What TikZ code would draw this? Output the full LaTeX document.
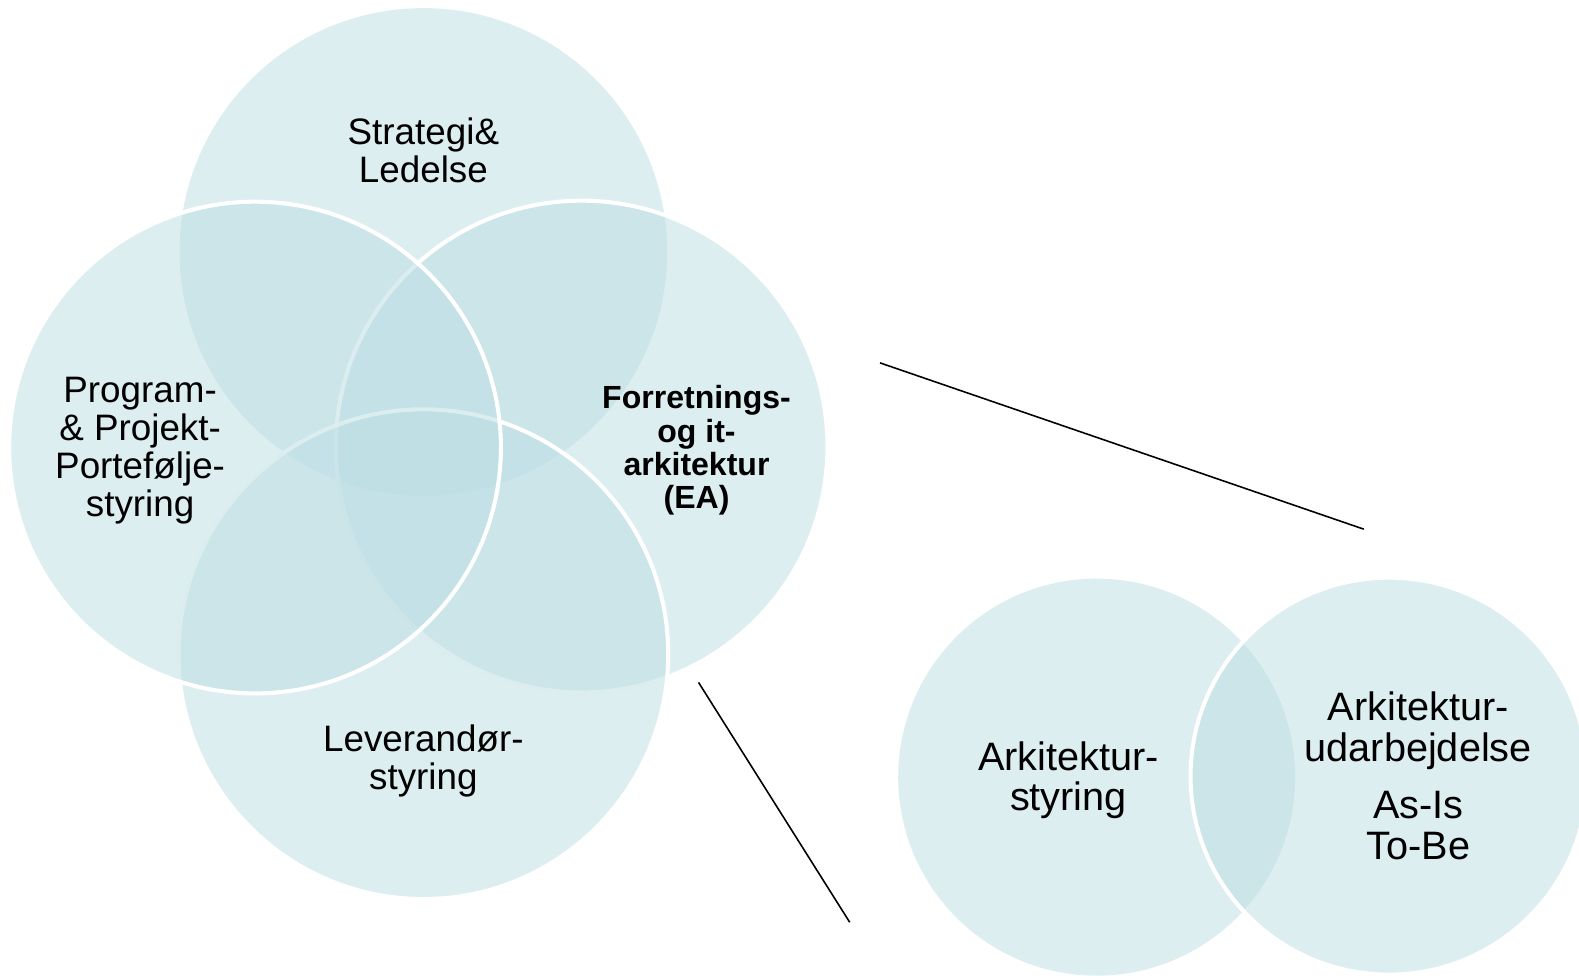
\documentclass[tikz,border=0pt]{standalone}
\usepackage{fontspec}
\setmainfont{Liberation Sans}
\definecolor{vennfill}{RGB}{187,221,226}
\tikzset{
  venn/.style={fill=vennfill, fill opacity=0.5},
  rim/.style={draw=white, line width=1.15pt},
  txt/.style={align=center, font=\fontsize{10.48}{10.79}\selectfont},
  txtbold/.style={align=center, font=\fontsize{9.12}{9.48}\selectfont\bfseries},
  txtsmall/.style={align=center, font=\fontsize{11.29}{11.6}\selectfont},
  zoomline/.style={black, line width=0.45pt}
}
\begin{document}
\begin{tikzpicture}[x=0.01008cm,y=-0.01008cm]
\useasboundingbox (0,0) rectangle (1566.5,968.25);

% large venn
\path[venn] (420,250) circle[radius=2.44cm];
\path[venn,rim] (577,443) circle[radius=2.46cm];
\path[venn,rim] (420,649) circle[radius=2.45cm];
\path[venn,rim] (253,444) circle[radius=2.46cm];

\node[txt] (strategi) at (420,149) {Strategi\&\\Ledelse};
\node[txt] (program) at (139,447) {Program-\\\& Projekt-\\Portefølje-\\styring};
\node[txtbold] (ea) at (691,447) {Forretnings-\\og it-\\arkitektur\\(EA)};
\node[txt] (leverandor) at (420,755) {Leverandør-\\styring};

% small venn
\path[venn] (1088,771) circle[radius=1.986cm];
\path[venn,rim] (1378,770) circle[radius=1.986cm];

\node[txtsmall] (styring) at (1060,774) {Arkitektur-\\styring};
\node[txtsmall] (udarb) at (1407,725) {Arkitektur-\\udarbejdelse};
\node[txtsmall] (asis) at (1407,819) {As-Is\\To-Be};

% zoom lines
\coordinate (z1a) at (873,360);
\coordinate (z1b) at (1353,525);
\coordinate (z2a) at (693,677);
\coordinate (z2b) at (843,915);
\draw[zoomline] (z1a) -- (z1b);
\draw[zoomline] (z2a) -- (z2b);

\end{tikzpicture}
\end{document}
